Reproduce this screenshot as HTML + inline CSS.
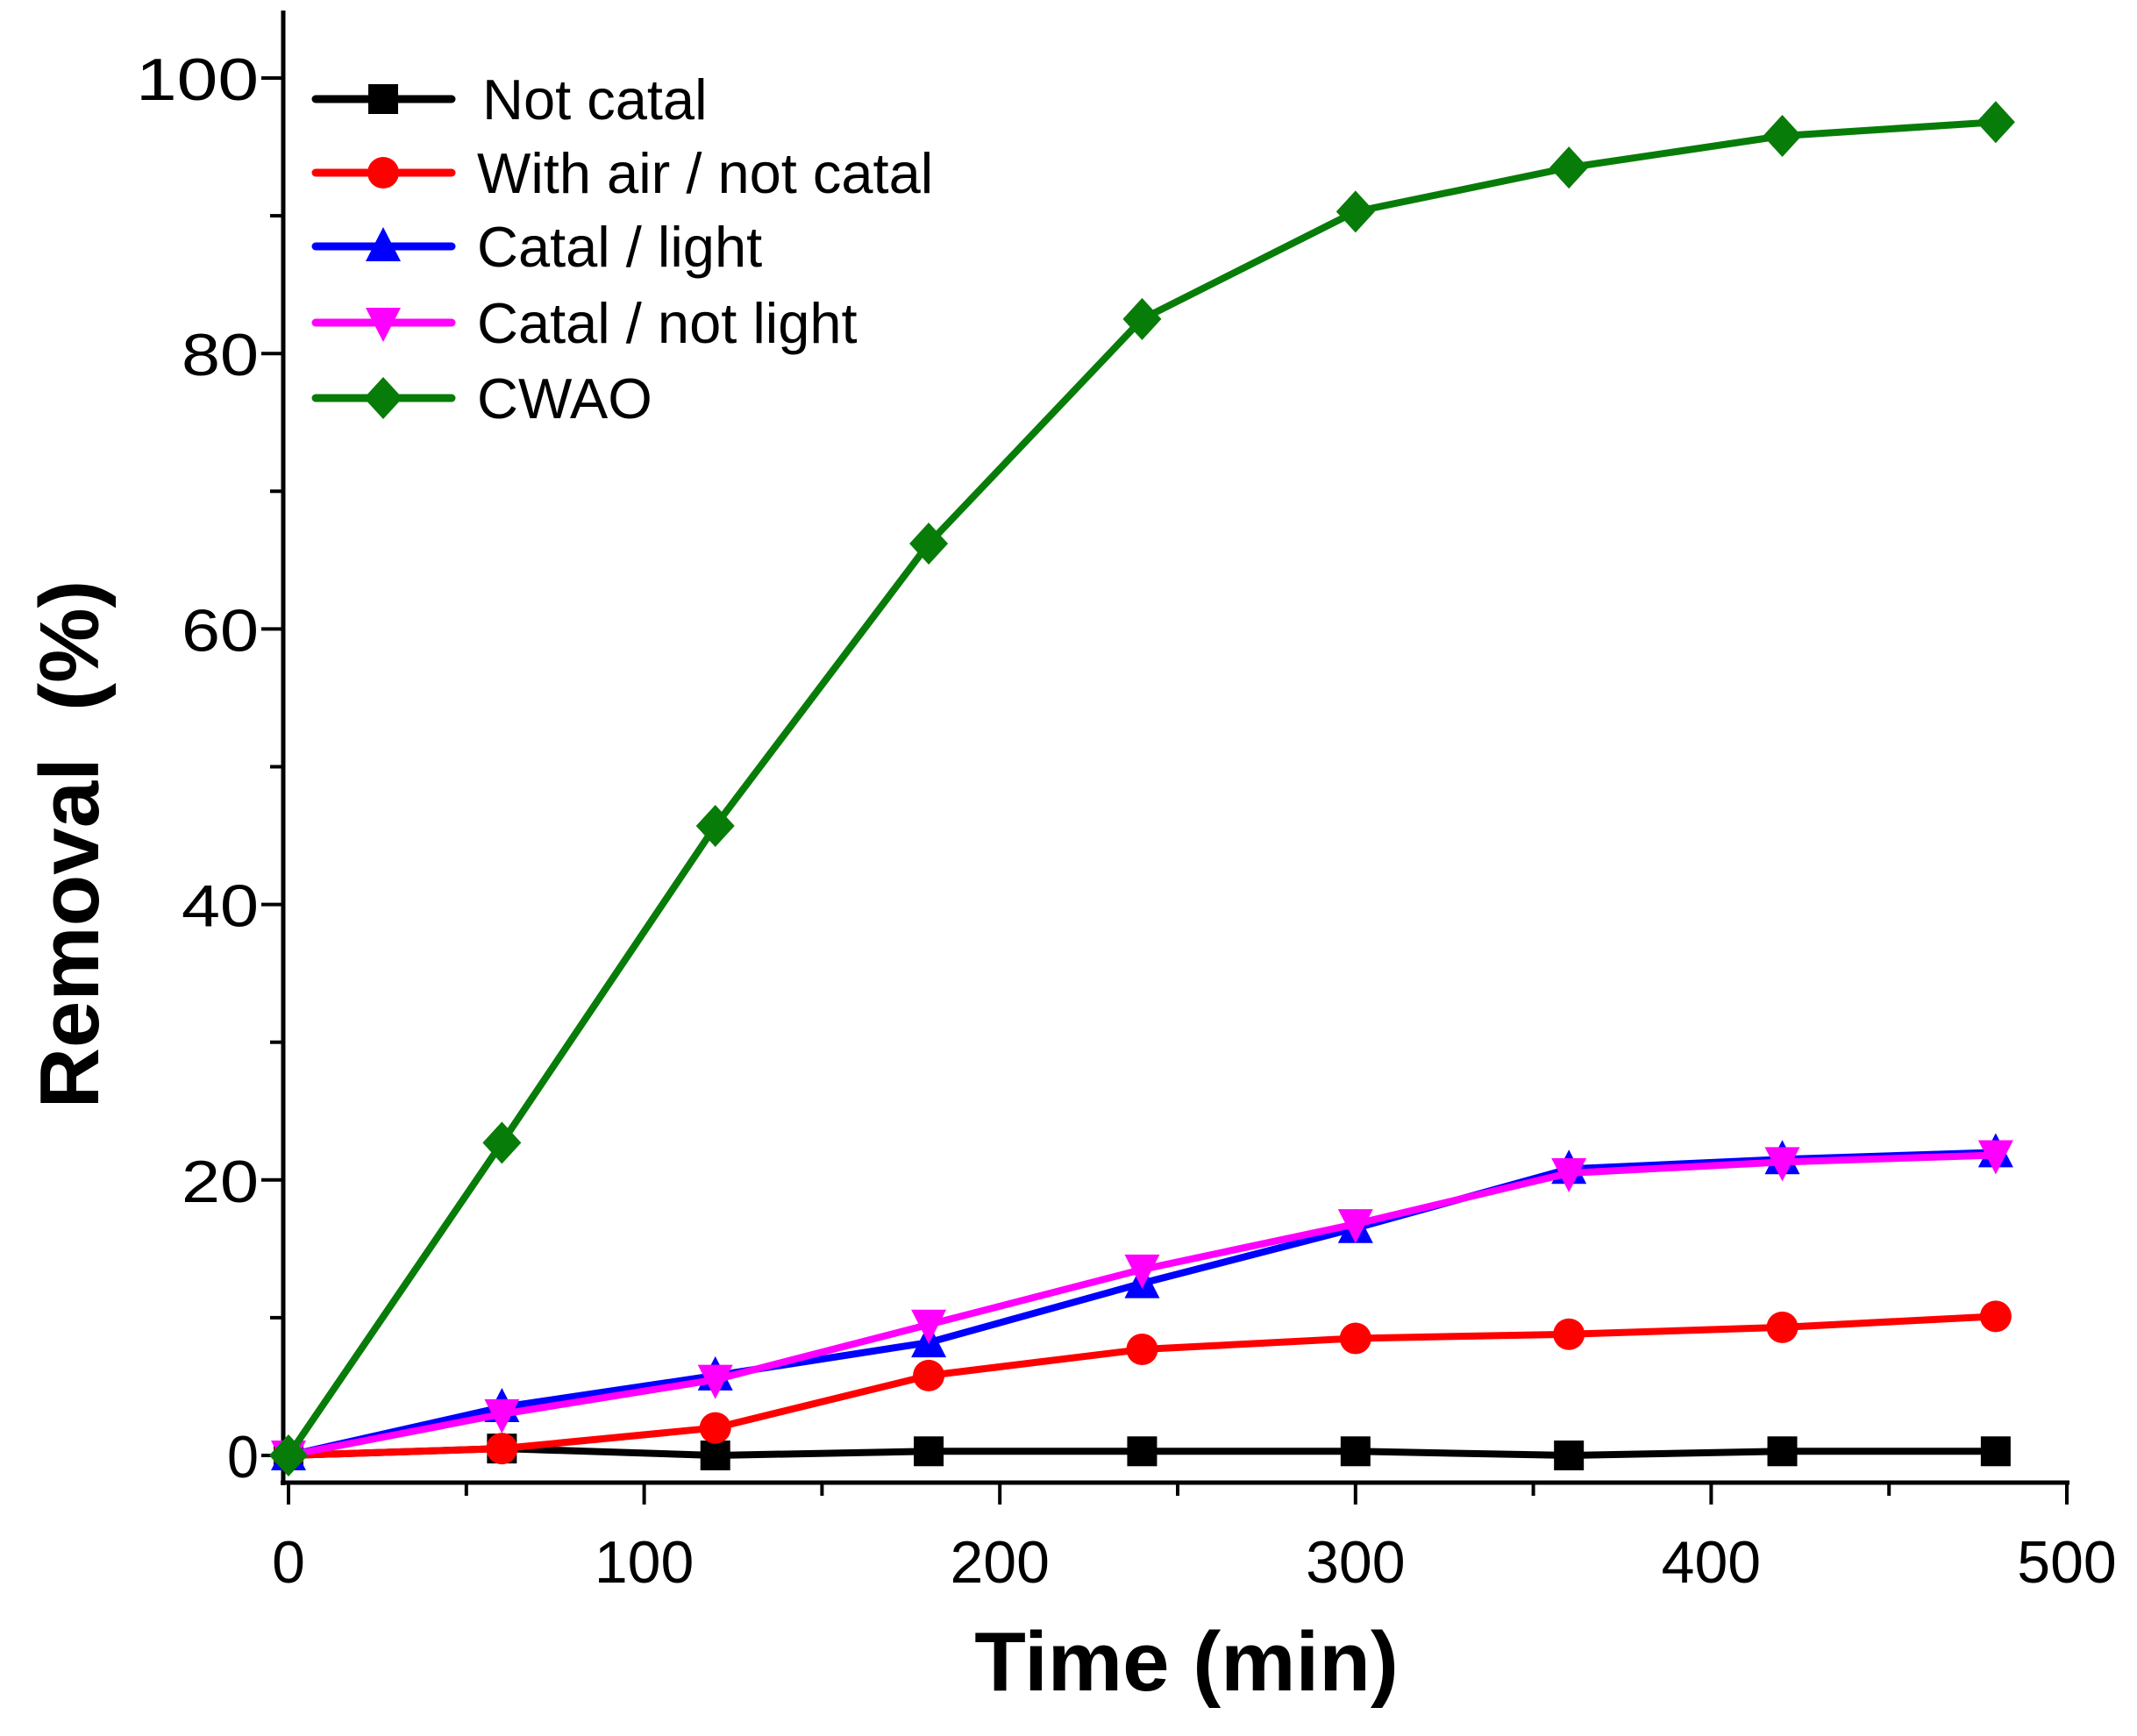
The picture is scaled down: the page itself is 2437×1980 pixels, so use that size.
<!DOCTYPE html>
<html><head><meta charset="utf-8"><style>
html,body{margin:0;padding:0;background:#fff;}
svg{display:block;font-family:"Liberation Sans",Arial,sans-serif;}
</style></head><body>
<svg id="c" width="2437" height="1980" viewBox="0 0 2437 1980" xmlns="http://www.w3.org/2000/svg">
<rect width="2437" height="1980" fill="#fff"/>
</svg>
<script>
const NS="http://www.w3.org/2000/svg",svg=document.getElementById('c');
function el(t,a,txt){const e=document.createElementNS(NS,t);for(const k in a)e.setAttribute(k,a[k]);if(txt!==undefined)e.textContent=txt;svg.appendChild(e);return e;}
const X=v=>329+v*(2357-329)/500, Y=v=>1660-v*(1660-89)/100;
el('line',{x1:323,y1:12,x2:323,y2:1694,stroke:'#000','stroke-width':5});
el('line',{x1:320,y1:1691,x2:2360,y2:1691,stroke:'#000','stroke-width':5});
for(let v=0;v<=100;v+=10){const y=Y(v);const maj=v%20==0;el('line',{x1:maj?298:308,y1:y,x2:323,y2:y,stroke:'#000','stroke-width':4});
 if(maj)el('text',{x:295,y:y+25,'font-size':68,'text-anchor':'end',textLength:v==100?140:(v==0?36:88),lengthAdjust:'spacingAndGlyphs'},String(v));}
for(let v=0;v<=500;v+=50){const x=X(v);const maj=v%100==0;el('line',{x1:x,y1:1691,x2:x,y2:maj?1716:1706,stroke:'#000','stroke-width':4});
 if(maj)el('text',{x:x,y:1805,'font-size':68,'text-anchor':'middle'},String(v));}
el('text',{x:1353,y:1928,'font-size':96,'font-weight':'bold','text-anchor':'middle'},'Time (min)');
el('text',{x:0,y:0,'font-size':96,'font-weight':'bold','text-anchor':'middle',transform:'translate(112,963) rotate(-90)','xml:space':'preserve'},'Removal\u00a0 (%)');
const T=[0,60,120,180,240,300,360,420,480];
const S=[
 ['Not catal','#000','sq',[0,0.5,0,0.3,0.3,0.3,0,0.3,0.3]],
 ['With air / not catal','#f00','ci',[0,0.5,2,5.8,7.7,8.5,8.8,9.3,10.1]],
 ['Catal / light','#00f','tu',[0,3.5,5.8,8.2,12.5,16.5,20.8,21.5,22]],
 ['Catal / not light','#f0f','td',[0,3,5.5,9.5,13.5,16.8,20.5,21.3,21.8]],
 ['CWAO','#087c08','di',[0,22.7,45.7,66.2,82.5,90.3,93.5,95.8,96.8]]];
function mk(t,x,y,c){const r=19;
 if(t=='sq')el('rect',{x:x-r+2,y:y-r+2,width:2*r-4,height:2*r-4,fill:c});
 else if(t=='ci')el('circle',{cx:x,cy:y,r:r-1,fill:c});
 else if(t=='tu')el('polygon',{points:`${x},${y-r-3} ${x+r+1},${y+r-2} ${x-r-1},${y+r-2}`,fill:c});
 else if(t=='td')el('polygon',{points:`${x},${y+r+3} ${x+r+1},${y-r+2} ${x-r-1},${y-r+2}`,fill:c});
 else el('polygon',{points:`${x},${y-r-5} ${x+r+3},${y} ${x},${y+r+5} ${x-r-3},${y}`,fill:c});}
S.forEach(s=>{const p=T.map((t,i)=>X(t)+','+Y(s[3][i])).join(' ');
 el('polyline',{points:p,fill:'none',stroke:s[1],'stroke-width':8,'stroke-linejoin':'round'});
 T.forEach((t,i)=>mk(s[2],X(t),Y(s[3][i]),s[1]));});
const LY=[113,197,281,368,454];
S.forEach((s,i)=>{const y=LY[i];el('line',{x1:360,y1:y,x2:515,y2:y,stroke:s[1],'stroke-width':9,'stroke-linecap':'round'});
 mk(s[2],437,y,s[1]);el('text',{x:i==0?550:544,y:y+23,'font-size':65},s[0]);});
</script>
</body></html>
